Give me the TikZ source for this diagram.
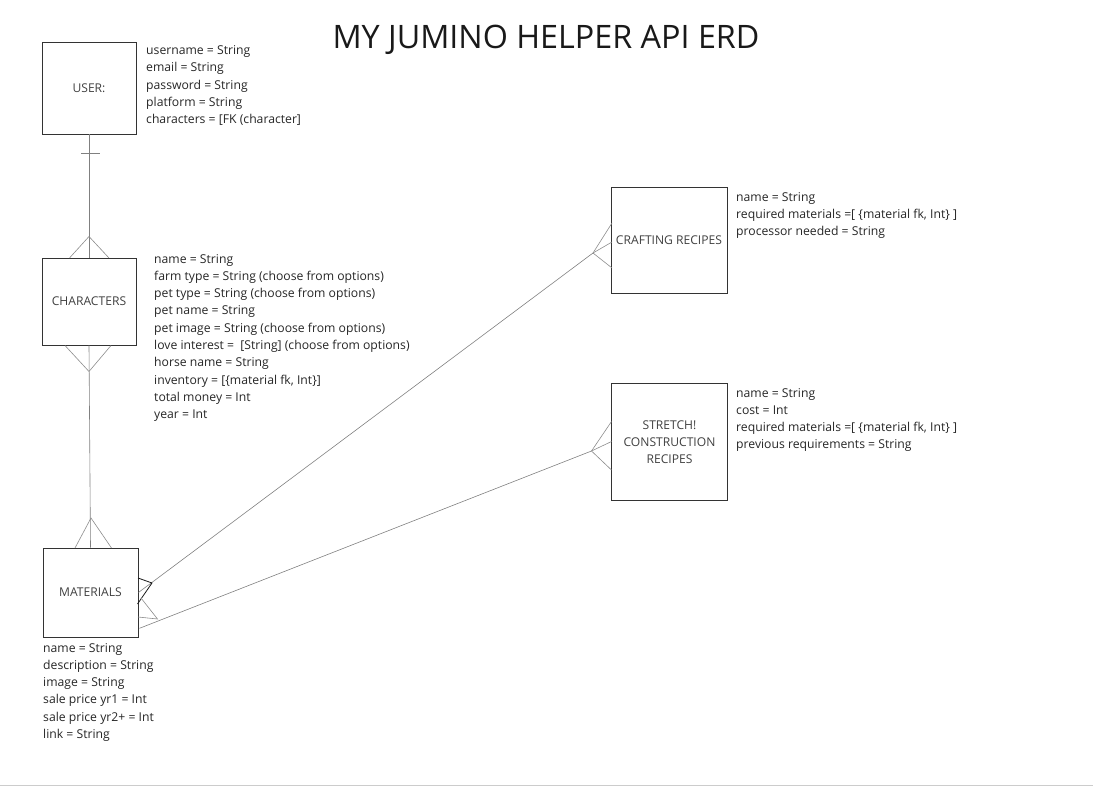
\documentclass[tikz,border=0pt]{standalone}
\usepackage{fontspec}
\setmainfont{Open Sans}
\usepackage{xcolor}

\newcommand{\attrlist}[1]{\begin{tabular}[t]{@{}l@{}}#1\end{tabular}}

\begin{document}
\begin{tikzpicture}[x=1pt,y=-1pt]
    \tikzset{entity/.style = {shape=rectangle,draw=black!80,line width=0.9pt,
        align=center,font=\fontsize{12.1}{17}\selectfont,text=black!75,inner sep=0pt}}
    \tikzset{attr/.style = {anchor=base west,inner sep=0pt,
        font=\fontsize{12.2}{17.3}\selectfont,text=black!85}}
    \tikzset{rel/.style = {-,draw=black!50,line width=0.6pt}}
    \tikzset{crow/.style = {-,draw=black!45,line width=0.6pt}}
    \useasboundingbox (0,0) rectangle (1093,787);
    \draw[black!20,line width=1.5pt] (0,785.5) -- (1093,785.5);

    % title
    \node[font=\fontsize{32.3}{38}\selectfont,text=black!90] (title) at (546,40) {MY JUMINO HELPER API ERD};

    % entities
    \node[entity,minimum width=94,minimum height=92] (user) at (89,88) {USER:};
    \node[entity,minimum width=94,minimum height=87] (characters) at (89,301.5) {CHARACTERS};
    \node[entity,minimum width=95,minimum height=89] (materials) at (90.5,592.5) {MATERIALS};
    \node[entity,minimum width=116,minimum height=106] (crafting) at (669,240) {CRAFTING RECIPES};
    \node[entity,minimum width=116,minimum height=117] (construction) at (669.5,442) {STRETCH!\\CONSTRUCTION\\RECIPES};

    % attributes
    \node[attr] (userattr) at (146,54.5) {\attrlist{username = String\\email = String\\password = String\\platform = String\\characters = [FK (character]}};
    \node[attr] (charattr) at (154,263) {\attrlist{name = String\\farm type = String (choose from options)\\pet type = String (choose from options)\\pet name = String\\pet image = String (choose from options)\\love interest = \ [String] (choose from options)\\horse name = String\\inventory = [\{material fk, Int\}]\\total money = Int\\year = Int}};
    \node[attr] (matattr) at (43,652) {\attrlist{name = String\\description = String\\image = String\\sale price yr1 = Int\\sale price yr2+ = Int\\link = String}};
    \node[attr] (craftattr) at (736,201) {\attrlist{name = String\\required materials =[ \{material fk, Int\} ]\\processor needed = String}};
    \node[attr] (constattr) at (736,397) {\attrlist{name = String\\cost = Int\\required materials =[ \{material fk, Int\} ]\\previous requirements = String}};

    % crow's foot points
    \coordinate (userbarl) at (81,153.5);
    \coordinate (userbarr) at (99.5,153.5);
    \coordinate (chartop) at (89,236.5);
    \coordinate (charbot) at (89,371.5);
    \coordinate (mattop) at (91,518);
    \coordinate (craftapex) at (593,253);
    \coordinate (matcraft) at (152,583);
    \coordinate (constapex) at (591.5,451);
    \coordinate (matconstfoot) at (139.5,628.3);
    \coordinate (matconst) at (157.5,619);

    % user - characters
    \draw[rel] (user.south) -- (characters.north);
    \draw[rel] (userbarl) -- (userbarr);
    \draw[crow] (69.5,258) -- (chartop) -- (109,258);

    % characters - materials
    \draw[rel] (characters.south) -- (materials.north);
    \draw[crow] (65,345.5) -- (charbot) -- (111,345.5);
    \draw[crow] (75,548) -- (mattop) -- (111.5,548);

    % materials - crafting recipes
    \draw[rel] (materials.east) -- (craftapex);
    \draw[crow] (612,223) -- (craftapex) -- (612,268);
    \draw[crow] (craftapex) -- (612,242);
    \draw[black!90,line width=0.8pt] (138,578) -- (matcraft) -- (137.5,604);

    % materials - construction recipes
    \draw[rel] (matconstfoot) -- (constapex);
    \draw[crow] (611.5,421.5) -- (constapex) -- (611.5,470);
    \draw[crow] (constapex) -- (611.5,441.5);
    \draw[crow] (141,598) -- (matconst) -- (138,617);
\end{tikzpicture}
\end{document}
